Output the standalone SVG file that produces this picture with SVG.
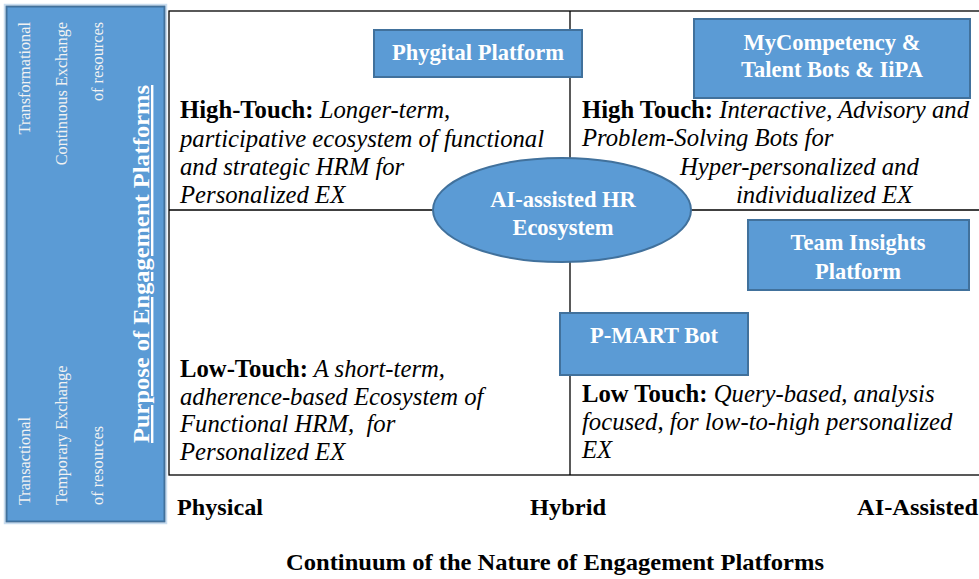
<svg xmlns="http://www.w3.org/2000/svg" width="979" height="579" viewBox="0 0 979 579" font-family="'Liberation Serif', 'Times New Roman', Times, serif">
<style>
  .box { fill: #5B9BD5; stroke: #41719C; stroke-width: 2; }
  .bt { fill: #FFFFFF; font-weight: bold; font-size: 22.5px; text-anchor: middle; }
  .q { fill: #000000; font-size: 24.7px; }
  .qb { font-weight: bold; font-style: normal; }
  .qi { font-style: italic; }
  .side { fill: #F2F2F2; font-size: 16.3px; }
  .axis { fill: #000000; font-size: 24px; font-weight: bold; }
  .grid { fill: none; stroke: #000000; stroke-width: 1.3; }
</style>

<g id="left-bar">
  <rect x="4.5" y="4.5" width="162" height="519" fill="none" stroke="#C9DDF0" stroke-width="1.5"/>
  <rect x="6.5" y="6.5" width="158" height="515" class="box"/>
  <text class="side" text-anchor="end" transform="translate(30,22) rotate(-90)">Transformational</text>
  <text class="side" text-anchor="end" transform="translate(67,22) rotate(-90)">Continuous Exchange</text>
  <text class="side" text-anchor="end" transform="translate(103,22) rotate(-90)">of resources</text>
  <text class="side" text-anchor="start" transform="translate(30,505) rotate(-90)">Transactional</text>
  <text class="side" text-anchor="start" transform="translate(67,505) rotate(-90)">Temporary Exchange</text>
  <text class="side" text-anchor="start" transform="translate(103,505) rotate(-90)">of resources</text>
  <text fill="#FFFFFF" font-size="24" font-weight="bold" text-decoration="underline" text-anchor="middle" textLength="358" lengthAdjust="spacingAndGlyphs" transform="translate(149,264) rotate(-90)">Purpose of Engagement Platforms</text>
</g>

<g id="connectors">
  <rect x="169" y="11" width="812" height="464" class="grid"/>
  <line x1="570" y1="11" x2="570" y2="475" class="grid"/>
  <line x1="169" y1="210" x2="981" y2="210" class="grid"/>
</g>

<g id="quadrant-top-left">
  <text class="q" x="180" y="118"><tspan class="qb">High-Touch:</tspan><tspan class="qi"> Longer-term,</tspan></text>
  <text class="q qi" x="180" y="147">participative ecosystem of functional</text>
  <text class="q qi" x="180" y="175">and strategic HRM for</text>
  <text class="q qi" x="180" y="203">Personalized EX</text>
</g>

<g id="quadrant-top-right">
  <text class="q" x="582" y="118"><tspan class="qb">High Touch:</tspan><tspan class="qi"> Interactive, Advisory and</tspan></text>
  <text class="q qi" x="582" y="146">Problem-Solving Bots for</text>
  <text class="q qi" x="680" y="175">Hyper-personalized and</text>
  <text class="q qi" x="736" y="203">individualized EX</text>
</g>

<g id="quadrant-bottom-left">
  <text class="q" x="180" y="377"><tspan class="qb">Low-Touch:</tspan><tspan class="qi"> A short-term,</tspan></text>
  <text class="q qi" x="180" y="405">adherence-based Ecosystem of</text>
  <text class="q qi" x="180" y="432" xml:space="preserve">Functional HRM,  for</text>
  <text class="q qi" x="180" y="460">Personalized EX</text>
</g>

<g id="quadrant-bottom-right">
  <text class="q" x="582" y="402"><tspan class="qb">Low Touch:</tspan><tspan class="qi"> Query-based, analysis</tspan></text>
  <text class="q qi" x="582" y="430">focused, for low-to-high personalized</text>
  <text class="q qi" x="582" y="458">EX</text>
</g>

<g id="phygital-platform">
  <rect x="374" y="30" width="208" height="47" class="box"/>
  <text class="bt" x="478" y="60">Phygital Platform</text>
</g>

<g id="mycompetency">
  <rect x="694" y="19" width="276" height="79" class="box"/>
  <text class="bt" x="832" y="50">MyCompetency &amp;</text>
  <text class="bt" x="832" y="77">Talent Bots &amp; IiPA</text>
</g>

<g id="ai-ecosystem">
  <ellipse cx="562" cy="210" rx="129" ry="52" class="box"/>
  <text class="bt" x="563" y="207">AI-assisted HR</text>
  <text class="bt" x="563" y="235">Ecosystem</text>
</g>

<g id="team-insights">
  <rect x="748" y="220" width="221" height="70" class="box"/>
  <text class="bt" x="858" y="250">Team Insights</text>
  <text class="bt" x="858" y="279">Platform</text>
</g>

<g id="p-mart-bot">
  <rect x="560" y="313" width="188" height="62" class="box"/>
  <text class="bt" x="654" y="343">P-MART Bot</text>
</g>

<g id="axis-labels">
  <text class="axis" x="177" y="515" textLength="86" lengthAdjust="spacingAndGlyphs">Physical</text>
  <text class="axis" x="530" y="515" textLength="76" lengthAdjust="spacingAndGlyphs">Hybrid</text>
  <text class="axis" x="857" y="515" textLength="121" lengthAdjust="spacingAndGlyphs">AI-Assisted</text>
  <text class="axis" x="286" y="570" textLength="538" lengthAdjust="spacingAndGlyphs">Continuum of the Nature of Engagement Platforms</text>
</g>
</svg>
